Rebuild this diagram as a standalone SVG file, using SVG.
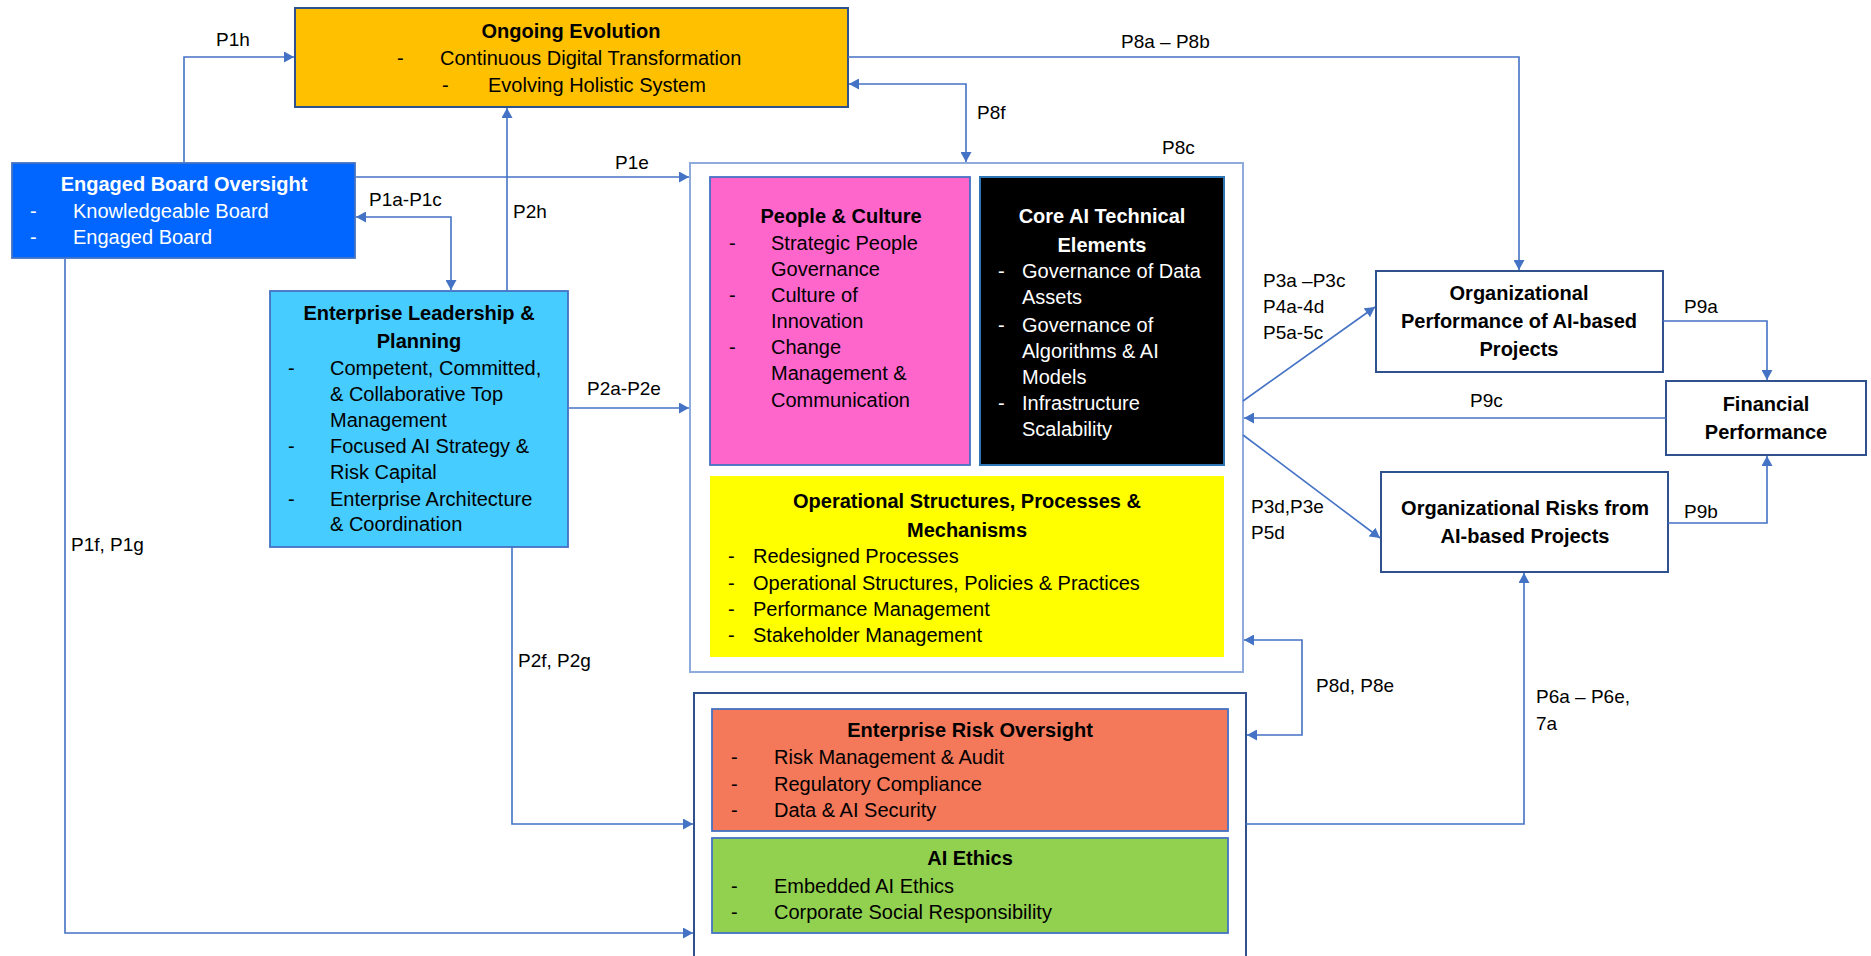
<svg xmlns="http://www.w3.org/2000/svg" width="1871" height="956" viewBox="0 0 1871 956">
  <defs>
    <marker id="arrow" markerUnits="userSpaceOnUse" markerWidth="11" markerHeight="11" refX="10" refY="5.5" orient="auto-start-reverse">
      <path d="M0,0 L10,5.5 L0,11 z" fill="#4472C4"/>
    </marker>
    <style>
      text { font-family: "Liberation Sans", Arial, sans-serif; font-size: 20px; fill: #000; }
      .t { font-weight: bold; text-anchor: middle; }
      .w { fill: #fff; }
      .lbl { font-size: 19px; }
      .conn path { fill: none; stroke: #4472C4; stroke-width: 1.6; }
      .box { stroke: #4472C4; stroke-width: 1.8; }
      .plain { fill: #fff; stroke: #2F528F; stroke-width: 2; }
    </style>
  </defs>
  <rect width="1871" height="956" fill="#fff"/>

  <!-- container frames -->
  <g id="core-frame">
    <rect x="690" y="163" width="553" height="509" fill="none" stroke="#8FAADC" stroke-width="2"/>
    <text class="lbl" x="1162" y="154">P8c</text>
  </g>
  <g id="oversight-frame">
    <path d="M694,960 V693 H1246 V960" fill="none" stroke="#2F528F" stroke-width="2"/>
  </g>

  <g id="ongoing-evolution">
    <rect x="295" y="8" width="553" height="99" fill="#FFC000" stroke="#2F528F" stroke-width="2"/>
    <text class="t" x="571" y="38">Ongoing Evolution</text>
    <text x="397" y="65">-</text><text x="440" y="65">Continuous Digital Transformation</text>
    <text x="442" y="92">-</text><text x="488" y="92">Evolving Holistic System</text>
  </g>

  <g id="engaged-board">
    <rect class="box" x="12" y="163" width="343" height="95" fill="#0066FF"/>
    <text class="t w" x="184" y="191">Engaged Board Oversight</text>
    <text class="w" x="30" y="218">-</text><text class="w" x="73" y="218">Knowledgeable Board</text>
    <text class="w" x="30" y="244">-</text><text class="w" x="73" y="244">Engaged Board</text>
  </g>

  <g id="enterprise-leadership">
    <rect class="box" x="270" y="291" width="298" height="256" fill="#47CCFF"/>
    <text class="t" x="419" y="320">Enterprise Leadership &amp;</text>
    <text class="t" x="419" y="348">Planning</text>
    <text x="288" y="375">-</text><text x="330" y="375">Competent, Committed,</text>
    <text x="330" y="401">&amp; Collaborative Top</text>
    <text x="330" y="427">Management</text>
    <text x="288" y="453">-</text><text x="330" y="453">Focused AI Strategy &amp;</text>
    <text x="330" y="479">Risk Capital</text>
    <text x="288" y="506">-</text><text x="330" y="506">Enterprise Architecture</text>
    <text x="330" y="531">&amp; Coordination</text>
  </g>

  <g id="people-culture">
    <rect class="box" x="710" y="177" width="260" height="288" fill="#FF66CC"/>
    <text class="t" x="841" y="223">People &amp; Culture</text>
    <text x="729" y="250">-</text><text x="771" y="250">Strategic People</text>
    <text x="771" y="276">Governance</text>
    <text x="729" y="302">-</text><text x="771" y="302">Culture of</text>
    <text x="771" y="328">Innovation</text>
    <text x="729" y="354">-</text><text x="771" y="354">Change</text>
    <text x="771" y="380">Management &amp;</text>
    <text x="771" y="407">Communication</text>
  </g>

  <g id="core-ai">
    <rect x="980" y="177" width="244" height="288" fill="#000" stroke="#2E75B6" stroke-width="2"/>
    <text class="t w" x="1102" y="223">Core AI Technical</text>
    <text class="t w" x="1102" y="252">Elements</text>
    <text class="w" x="998" y="278">-</text><text class="w" x="1022" y="278">Governance of Data</text>
    <text class="w" x="1022" y="304">Assets</text>
    <text class="w" x="998" y="332">-</text><text class="w" x="1022" y="332">Governance of</text>
    <text class="w" x="1022" y="358">Algorithms &amp; AI</text>
    <text class="w" x="1022" y="384">Models</text>
    <text class="w" x="998" y="410">-</text><text class="w" x="1022" y="410">Infrastructure</text>
    <text class="w" x="1022" y="436">Scalability</text>
  </g>

  <g id="operational">
    <rect x="710" y="476" width="514" height="181" fill="#FFFF00"/>
    <text class="t" x="967" y="508">Operational Structures, Processes &amp;</text>
    <text class="t" x="967" y="537">Mechanisms</text>
    <text x="728" y="563">-</text><text x="753" y="563">Redesigned Processes</text>
    <text x="728" y="590">-</text><text x="753" y="590">Operational Structures, Policies &amp; Practices</text>
    <text x="728" y="616">-</text><text x="753" y="616">Performance Management</text>
    <text x="728" y="642">-</text><text x="753" y="642">Stakeholder Management</text>
  </g>

  <g id="risk-oversight">
    <rect class="box" x="712" y="709" width="516" height="122" fill="#F4785A"/>
    <text class="t" x="970" y="737">Enterprise Risk Oversight</text>
    <text x="731" y="764">-</text><text x="774" y="764">Risk Management &amp; Audit</text>
    <text x="731" y="791">-</text><text x="774" y="791">Regulatory Compliance</text>
    <text x="731" y="817">-</text><text x="774" y="817">Data &amp; AI Security</text>
  </g>

  <g id="ai-ethics">
    <rect class="box" x="712" y="838" width="516" height="95" fill="#92D050"/>
    <text class="t" x="970" y="865">AI Ethics</text>
    <text x="731" y="893">-</text><text x="774" y="893">Embedded AI Ethics</text>
    <text x="731" y="919">-</text><text x="774" y="919">Corporate Social Responsibility</text>
  </g>

  <g id="org-performance">
    <rect class="plain" x="1376" y="271" width="287" height="101"/>
    <text class="t" x="1519" y="300">Organizational</text>
    <text class="t" x="1519" y="328">Performance of AI-based</text>
    <text class="t" x="1519" y="356">Projects</text>
  </g>

  <g id="financial-performance">
    <rect class="plain" x="1666" y="381" width="200" height="74"/>
    <text class="t" x="1766" y="411">Financial</text>
    <text class="t" x="1766" y="439">Performance</text>
  </g>

  <g id="org-risks">
    <rect class="plain" x="1381" y="472" width="287" height="100"/>
    <text class="t" x="1525" y="515">Organizational Risks from</text>
    <text class="t" x="1525" y="543">AI-based Projects</text>
  </g>

  <!-- connectors -->
  <g id="connectors" class="conn">
    <path d="M184,162 V57 H294" marker-end="url(#arrow)"/>
    <path d="M848,57 H1519 V270" marker-end="url(#arrow)"/>
    <path d="M849,84 H966 V162" marker-start="url(#arrow)" marker-end="url(#arrow)"/>
    <path d="M356,177 H689" marker-end="url(#arrow)"/>
    <path d="M356,217 H451 V290" marker-start="url(#arrow)" marker-end="url(#arrow)"/>
    <path d="M507,291 V108" marker-end="url(#arrow)"/>
    <path d="M569,408 H689" marker-end="url(#arrow)"/>
    <path d="M65,259 V933 H693" marker-end="url(#arrow)"/>
    <path d="M512,547 V824 H693" marker-end="url(#arrow)"/>
    <path d="M1243,401 L1375,307" marker-end="url(#arrow)"/>
    <path d="M1666,418 H1244" marker-end="url(#arrow)"/>
    <path d="M1243,435 L1380,538" marker-end="url(#arrow)"/>
    <path d="M1663,321 H1767 V380" marker-end="url(#arrow)"/>
    <path d="M1668,523 H1767 V456" marker-end="url(#arrow)"/>
    <path d="M1244,640 H1302 V735 H1247" marker-start="url(#arrow)" marker-end="url(#arrow)"/>
    <path d="M1246,824 H1524 V573" marker-end="url(#arrow)"/>
  </g>

  <!-- connector labels -->
  <g id="connector-labels">
    <text class="lbl" x="216" y="46">P1h</text>
    <text class="lbl" x="1121" y="48">P8a – P8b</text>
    <text class="lbl" x="977" y="119">P8f</text>
    <text class="lbl" x="615" y="169">P1e</text>
    <text class="lbl" x="369" y="206">P1a-P1c</text>
    <text class="lbl" x="513" y="218">P2h</text>
    <text class="lbl" x="587" y="395">P2a-P2e</text>
    <text class="lbl" x="71" y="551">P1f, P1g</text>
    <text class="lbl" x="518" y="667">P2f, P2g</text>
    <text class="lbl" x="1263" y="287">P3a –P3c</text>
    <text class="lbl" x="1263" y="313">P4a-4d</text>
    <text class="lbl" x="1263" y="339">P5a-5c</text>
    <text class="lbl" x="1684" y="313">P9a</text>
    <text class="lbl" x="1470" y="407">P9c</text>
    <text class="lbl" x="1251" y="513">P3d,P3e</text>
    <text class="lbl" x="1251" y="539">P5d</text>
    <text class="lbl" x="1684" y="518">P9b</text>
    <text class="lbl" x="1316" y="692">P8d, P8e</text>
    <text class="lbl" x="1536" y="703">P6a – P6e,</text>
    <text class="lbl" x="1536" y="730">7a</text>
  </g>
</svg>
